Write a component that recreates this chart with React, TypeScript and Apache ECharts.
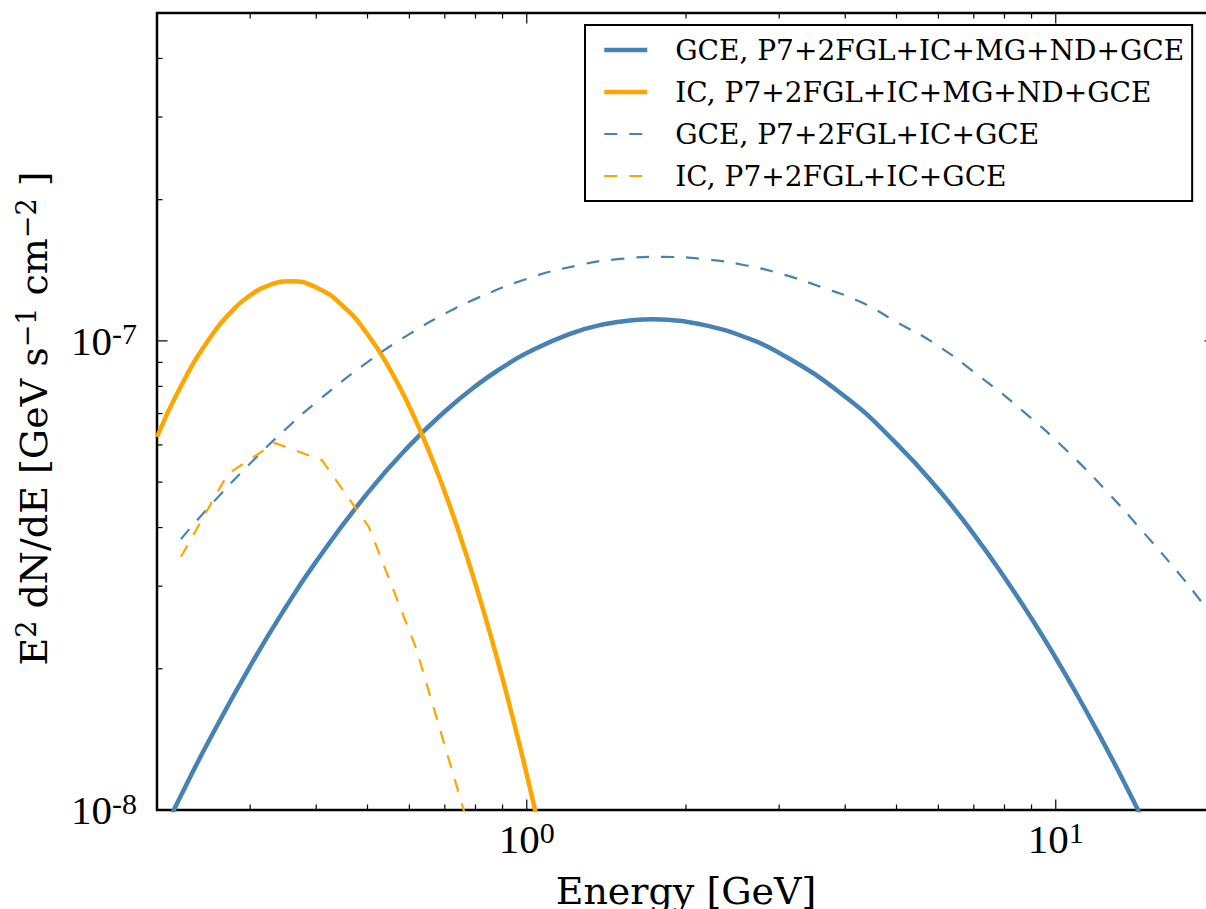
import React, { useEffect, useRef } from 'react';
import * as echarts from 'echarts';

// GCE spectrum, fit with P7+2FGL+IC+MG+ND+GCE templates
const gceFullEnergy = [0.2, 0.22, 0.25, 0.3, 0.35, 0.4, 0.5, 0.6, 0.7, 0.8, 0.9, 1.0, 1.2, 1.4, 1.6, 1.73, 2.0, 2.25, 2.5, 3, 4, 5, 6, 7, 8, 9, 10, 11, 12, 13, 14, 15];
const gceFullFlux = [8.41e-9, 1.051e-8, 1.396e-8, 2.027e-8, 2.701e-8, 3.388e-8, 4.737e-8, 5.98e-8, 7.07e-8, 8.01e-8, 8.78e-8, 9.42e-8, 1.033e-7, 1.085e-7, 1.108e-7, 1.112e-7, 1.099e-7, 1.07e-7, 1.033e-7, 9.43e-8, 7.6e-8, 6.04e-8, 4.82e-8, 3.87e-8, 3.13e-8, 2.56e-8, 2.109e-8, 1.752e-8, 1.467e-8, 1.238e-8, 1.05e-8, 8.96e-9];

// IC spectrum, fit with P7+2FGL+IC+MG+ND+GCE templates
const icFullEnergy = [0.2, 0.22, 0.25, 0.28, 0.3, 0.32, 0.357, 0.4, 0.45, 0.5, 0.55, 0.6, 0.65, 0.7, 0.75, 0.8, 0.85, 0.9, 0.95, 1.0, 1.05];
const icFullFlux = [6.24e-8, 7.86e-8, 1.003e-7, 1.172e-7, 1.25e-7, 1.304e-7, 1.34e-7, 1.3e-7, 1.185e-7, 1.033e-7, 8.74e-8, 7.24e-8, 5.9e-8, 4.76e-8, 3.81e-8, 3.03e-8, 2.405e-8, 1.905e-8, 1.506e-8, 1.19e-8, 9.41e-9];

// GCE spectrum, fit with P7+2FGL+IC+GCE templates
const gceBaseEnergy = [0.222, 0.25, 0.3, 0.35, 0.4, 0.5, 0.6, 0.7, 0.8, 1.0, 1.25, 1.5, 1.8, 2.2, 2.6, 3.0, 3.6, 4.3, 5.0, 5.9, 7.2, 8.7, 10.5, 12.5, 14.7, 17.3, 18.7, 20];
const gceBaseFlux = [3.78e-8, 4.41e-8, 5.48e-8, 6.48e-8, 7.4e-8, 9.01e-8, 1.034e-7, 1.142e-7, 1.229e-7, 1.356e-7, 1.449e-7, 1.495e-7, 1.51e-7, 1.491e-7, 1.448e-7, 1.393e-7, 1.303e-7, 1.207e-7, 1.097e-7, 9.87e-8, 8.38e-8, 7.06e-8, 5.83e-8, 4.77e-8, 3.89e-8, 3.14e-8, 2.81e-8, 2.55e-8];

// IC spectrum, fit with P7+2FGL+IC+GCE templates
const icBaseEnergy = [0.222, 0.272, 0.334, 0.41, 0.503, 0.618, 0.758, 0.93];
const icBaseFlux = [3.465e-8, 5.2e-8, 6.06e-8, 5.57e-8, 4.01e-8, 2.21e-8, 1.01e-8, 4.56e-9];

const seriesNames = [
  'GCE, P7+2FGL+IC+MG+ND+GCE',
  'IC, P7+2FGL+IC+MG+ND+GCE',
  'GCE, P7+2FGL+IC+GCE',
  'IC, P7+2FGL+IC+GCE',
];

const xRange = [0.2, 20];
const yRange = [1e-8, 5e-7];
const xMajorTicks = [1, 10];
const xMinorTicks = [0.3, 0.4, 0.5, 0.6, 0.7, 0.8, 0.9, 2, 3, 4, 5, 6, 7, 8, 9, 20];
const yMajorTicks = [1e-8, 1e-7];
const yMinorTicks = [2e-8, 3e-8, 4e-8, 5e-8, 6e-8, 7e-8, 8e-8, 9e-8, 2e-7, 3e-7, 4e-7, 5e-7];

const BLUE = '#4682b4';
const ORANGE = '#ffa500';
const DASH = [13, 12];

const zip = (e: number[], f: number[]) => e.map((v, i) => [v, f[i]]);

const powerLabel = (v: number) => {
  const p = Math.log10(v);
  const r = Math.round(p);
  if (Math.abs(p - r) > 1e-6) return '';
  return `{b|10}{s|${r}}`;
};

const tickRich = {
  b: { fontFamily: 'Liberation Serif', fontSize: 41, lineHeight: 44, color: '#000' },
  s: { fontFamily: 'Liberation Serif', fontSize: 30, lineHeight: 16, verticalAlign: 'top', color: '#000' },
};

export default function App() {
  const ref = useRef<HTMLDivElement>(null);

  useEffect(() => {
    if (!ref.current) return;
    const chart = echarts.init(ref.current, undefined, { renderer: 'svg' });

    const line = (
      name: string,
      data: number[][],
      color: string,
      width: number,
      dashed: boolean,
      smooth: number | boolean,
    ) => ({
      name,
      type: 'line',
      data,
      symbol: 'none',
      showSymbol: false,
      clip: true,
      smooth,
      lineStyle: { color, width, type: dashed ? DASH : 'solid' },
      itemStyle: { color },
      emphasis: { disabled: true },
    });

    chart.setOption({
      animation: false,
      backgroundColor: '#fff',
      grid: {
        left: 157,
        top: 13,
        width: 1058,
        height: 797,
        show: true,
        borderColor: '#000',
        borderWidth: 2.5,
        backgroundColor: 'transparent',
        containLabel: false,
        outerBoundsMode: 'none',
      },
      legend: {
        orient: 'vertical',
        left: 585,
        top: 25,
        padding: [10, 8, 10, 17],
        itemWidth: 43,
        itemHeight: 14,
        itemGap: 12,
        backgroundColor: '#fff',
        borderColor: '#000',
        borderWidth: 2,
        borderRadius: 0,
        selectedMode: false,
        itemStyle: { opacity: 0 },
        lineStyle: { width: 'inherit' },
        textStyle: {
          fontFamily: 'DejaVu Serif',
          fontSize: 28,
          lineHeight: 30,
          color: '#000',
          padding: [0, 0, 0, 23],
        },
        data: seriesNames,
      },
      xAxis: {
        type: 'log',
        logBase: 10,
        min: xRange[0],
        max: xRange[1],
        axisLine: { show: false },
        axisTick: { show: false },
        splitLine: { show: false },
        minorTick: { show: false },
        axisLabel: {
          margin: 7,
          formatter: powerLabel,
          rich: tickRich,
          showMinLabel: true,
          showMaxLabel: true,
        },
        name: 'Energy [GeV]',
        nameLocation: 'middle',
        nameGap: 62,
        nameTextStyle: { fontFamily: 'DejaVu Serif', fontSize: 38, color: '#000' },
      },
      yAxis: {
        type: 'log',
        logBase: 10,
        min: yRange[0],
        max: yRange[1],
        axisLine: { show: false },
        axisTick: { show: false },
        splitLine: { show: false },
        minorTick: { show: false },
        axisLabel: {
          margin: 20,
          formatter: powerLabel,
          rich: tickRich,
          showMinLabel: true,
          showMaxLabel: true,
        },
        name: '{n|E}{s|2}{n| dN/dE [GeV s}{s|\u22121}{n| cm}{s|\u22122}{n| ]}',
        nameLocation: 'middle',
        nameGap: 102,
        nameTextStyle: {
          color: '#000',
          padding: [0, 14, 0, 0],
          rich: {
            n: { fontFamily: 'DejaVu Serif', fontSize: 38, lineHeight: 42, color: '#000' },
            s: { fontFamily: 'DejaVu Serif', fontSize: 27, lineHeight: 14, verticalAlign: 'top', color: '#000' },
          },
        },
      },
      series: [
        line(seriesNames[0], zip(gceFullEnergy, gceFullFlux), BLUE, 4.5, false, 0.5),
        line(seriesNames[1], zip(icFullEnergy, icFullFlux), ORANGE, 4.5, false, 0.5),
        line(seriesNames[2], zip(gceBaseEnergy, gceBaseFlux), BLUE, 2.2, true, 0.5),
        line(seriesNames[3], zip(icBaseEnergy, icBaseFlux), ORANGE, 2.2, true, false),
      ],
    });

    // Inward ticks on all four spines, placed through the axes' own scales
    const X = (v: number) => chart.convertToPixel({ xAxisIndex: 0 }, v) as number;
    const Y = (v: number) => chart.convertToPixel({ yAxisIndex: 0 }, v) as number;
    const top = Y(yRange[1]);
    const bottom = Y(yRange[0]);
    const left = X(xRange[0]);
    const right = X(xRange[1]);
    const tickStyle = { stroke: '#000', lineWidth: 1.2 };
    const ticks: any[] = [];
    const addX = (vals: number[], len: number) => {
      vals.forEach((v) => {
        const x = X(v);
        ticks.push({ type: 'line', silent: true, z: 100, shape: { x1: x, y1: bottom, x2: x, y2: bottom - len }, style: tickStyle });
        ticks.push({ type: 'line', silent: true, z: 100, shape: { x1: x, y1: top, x2: x, y2: top + len }, style: tickStyle });
      });
    };
    const addY = (vals: number[], len: number) => {
      vals.forEach((v) => {
        const y = Y(v);
        ticks.push({ type: 'line', silent: true, z: 100, shape: { x1: left, y1: y, x2: left + len, y2: y }, style: tickStyle });
        ticks.push({ type: 'line', silent: true, z: 100, shape: { x1: right, y1: y, x2: right - len, y2: y }, style: tickStyle });
      });
    };
    addX(xMajorTicks, 10.5);
    addX(xMinorTicks, 5.5);
    addY(yMajorTicks, 10.5);
    addY(yMinorTicks, 5.5);
    chart.setOption({ graphic: ticks });

    return () => chart.dispose();
  }, []);

  return (
    <div
      style={{
        position: 'fixed',
        left: 0,
        top: 0,
        width: 1206,
        height: 909,
        overflow: 'hidden',
        background: '#fff',
      }}
    >
      <div ref={ref} style={{ width: 1230, height: 909 }} />
    </div>
  );
}
